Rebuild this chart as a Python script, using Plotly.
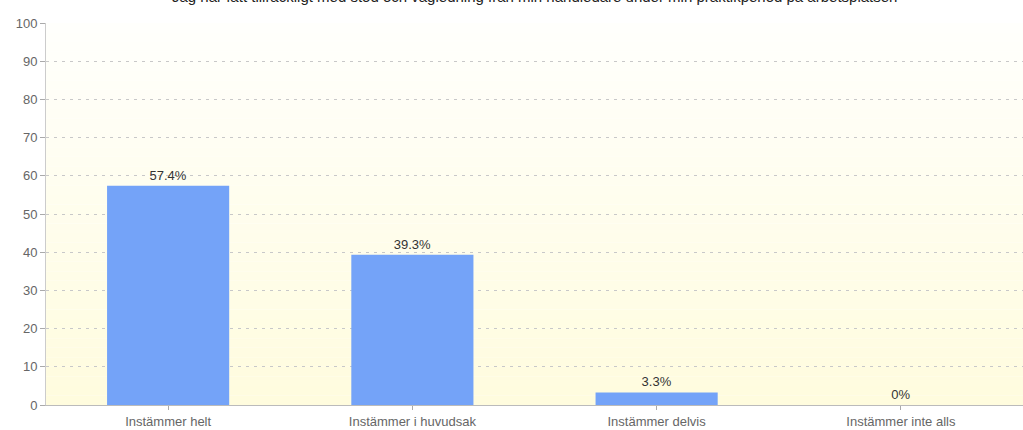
import plotly.graph_objects as go

categories = ["Instämmer helt", "Instämmer i huvudsak", "Instämmer delvis", "Instämmer inte alls"]
values = [57.4, 39.3, 3.3, 0]
labels = ["57.4%", "39.3%", "3.3%", "0%"]
title_text = "Jag har fått tillräckligt med stöd och vägledning från min handledare under min praktikperiod på arbetsplatsen"

FONT = "Liberation Sans, Arial, sans-serif"

fig = go.Figure()
fig.add_trace(go.Bar(
    x=categories, y=values, text=labels, textposition="outside",
    textfont=dict(family=FONT, size=13, color="#333333"),
    marker=dict(color="#74a3f8", line=dict(width=0)),
    width=0.5, cliponaxis=False,
))

# vertical gradient background in plot area
n = 40
shapes = []
for i in range(n):
    t = i / (n - 1)
    g = round(255 - 3 * t)
    b = round(252 - 30 * t)
    shapes.append(dict(type="rect", xref="x domain", yref="y domain",
                       x0=0, x1=1, y0=1 - (i + 1) / n, y1=1 - i / n,
                       fillcolor=f"rgb(255,{g},{b})", line=dict(width=0), layer="below"))

fig.update_layout(
    width=1023, height=430,
    margin=dict(l=46, r=0, t=23, b=25, autoexpand=False),
    paper_bgcolor="white", plot_bgcolor="rgba(0,0,0,0)",
    shapes=shapes,
    showlegend=False,
    bargap=0.5,
    font=dict(family=FONT, size=13, color="#666666"),
    annotations=[dict(text=title_text, x=0.5, xref="paper", xanchor="center",
                      y=1, yref="paper", yanchor="bottom", yshift=16, showarrow=False,
                      font=dict(family=FONT, size=15, color="#222222"))],
)
fig.update_yaxes(range=[0, 100], dtick=10, showgrid=True, gridcolor="#c8c8c8",
                 griddash="3px,5px", gridwidth=1, showline=True, linecolor="#cccccc",
                 ticks="outside", ticklen=5, tickcolor="#aaaaaa", automargin=False,
                 tickfont=dict(family=FONT, size=13, color="#666666"), zeroline=False)
fig.update_xaxes(showline=True, linecolor="#bbbbbb", ticks="outside", ticklen=4,
                 tickcolor="#aaaaaa", automargin=False,
                 tickfont=dict(family=FONT, size=13, color="#666666"))

fig.write_html("out.html", config={"displayModeBar": False},
               post_script="document.body.style.margin='0';document.body.style.overflow='hidden';")
